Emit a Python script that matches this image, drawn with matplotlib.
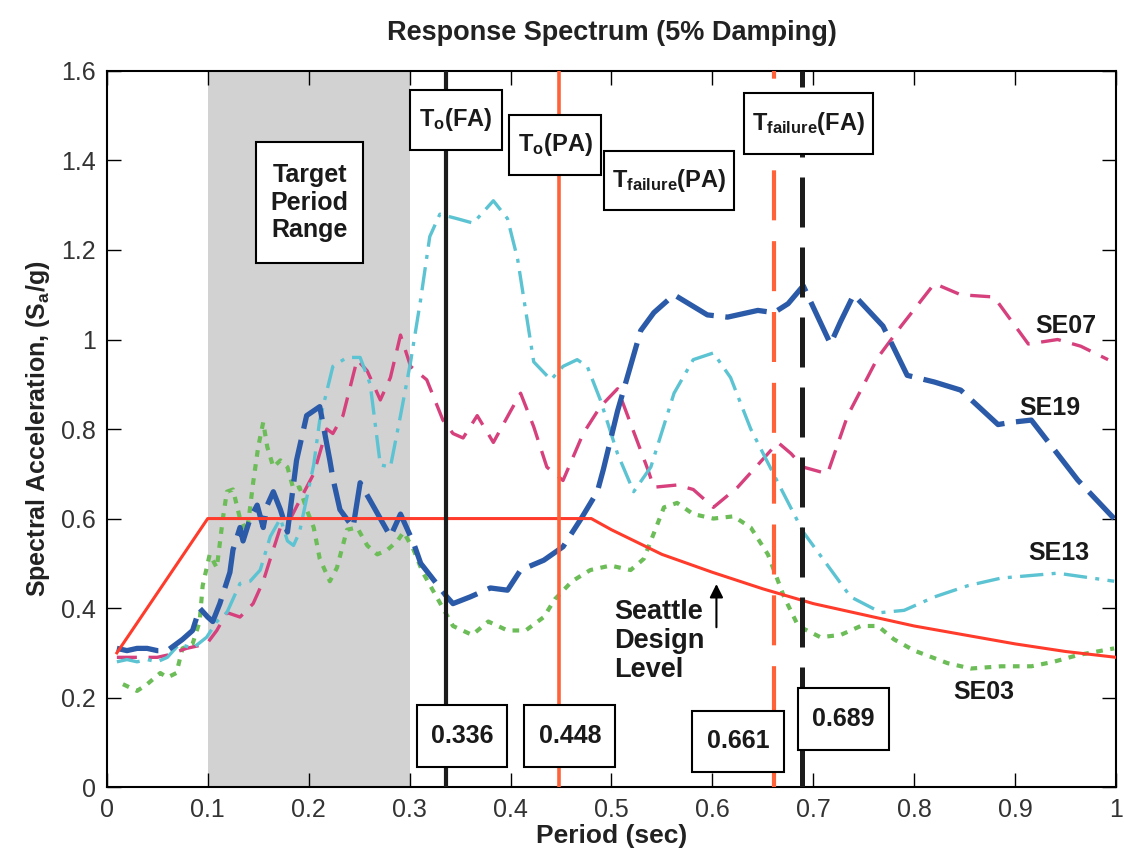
import matplotlib
matplotlib.use('Agg')
import matplotlib.pyplot as plt
from matplotlib.patches import Rectangle

plt.rcParams.update({
    'font.family': ['Liberation Sans', 'DejaVu Sans'],
    'mathtext.fontset': 'custom',
    'mathtext.rm': 'Liberation Sans:bold',
    'mathtext.default': 'rm',
})

NARROW = ['Liberation Sans Narrow', 'Liberation Sans', 'DejaVu Sans']

# ---- data ----
se19_t = [0.01, 0.02, 0.03, 0.04, 0.05, 0.06, 0.075, 0.085, 0.092, 0.1, 0.105, 0.112, 0.122, 0.125,
          0.132, 0.135, 0.142, 0.149, 0.155, 0.159, 0.165, 0.172, 0.179, 0.188, 0.198, 0.211, 0.221,
          0.224, 0.231, 0.244, 0.251, 0.271, 0.281, 0.291, 0.304, 0.311, 0.337, 0.343, 0.36, 0.38,
          0.397, 0.41, 0.433, 0.452, 0.47, 0.486, 0.492, 0.506, 0.529, 0.542, 0.562, 0.595, 0.615,
          0.645, 0.661, 0.675, 0.69, 0.717, 0.727, 0.74, 0.769, 0.78, 0.793, 0.82, 0.846, 0.883,
          0.896, 0.916, 0.962, 0.998]
se19_sa = [0.31, 0.305, 0.31, 0.31, 0.305, 0.305, 0.33, 0.35, 0.40, 0.38, 0.37, 0.41, 0.48, 0.53,
           0.58, 0.55, 0.60, 0.63, 0.58, 0.63, 0.66, 0.62, 0.57, 0.73, 0.83, 0.85, 0.73,
           0.69, 0.62, 0.58, 0.68, 0.60, 0.56, 0.61, 0.545, 0.50, 0.425, 0.41, 0.425, 0.445,
           0.44, 0.485, 0.507, 0.537, 0.60, 0.66, 0.71, 0.84, 1.02, 1.06, 1.10, 1.055, 1.05,
           1.065, 1.06, 1.08, 1.12, 0.99, 1.04, 1.10, 1.03, 0.98, 0.92, 0.905, 0.887, 0.81,
           0.815, 0.82, 0.686, 0.60]

se13_t = [0.01, 0.02, 0.03, 0.04, 0.05, 0.06, 0.072, 0.085, 0.099, 0.109, 0.119, 0.132, 0.142, 0.152,
          0.162, 0.172, 0.179, 0.185, 0.191, 0.205, 0.211, 0.224, 0.238, 0.251, 0.261, 0.271, 0.281,
          0.291, 0.301, 0.311, 0.32, 0.33, 0.347, 0.363, 0.383, 0.397, 0.407, 0.423, 0.44, 0.452,
          0.466, 0.476, 0.489, 0.506, 0.522, 0.539, 0.562, 0.581, 0.601, 0.618, 0.638, 0.665, 0.69,
          0.737, 0.767, 0.79, 0.82, 0.853, 0.886, 0.942, 0.998]
se13_sa = [0.28, 0.285, 0.28, 0.285, 0.28, 0.29, 0.32, 0.31, 0.335, 0.37, 0.39, 0.455, 0.46, 0.485,
           0.56, 0.60, 0.55, 0.54, 0.57, 0.72, 0.82, 0.94, 0.96, 0.96, 0.90, 0.72, 0.715,
           0.83, 0.95, 1.09, 1.23, 1.28, 1.27, 1.26, 1.31, 1.27, 1.18, 0.95, 0.91, 0.94,
           0.955, 0.94, 0.865, 0.745, 0.66, 0.715, 0.88, 0.955, 0.97, 0.915, 0.80, 0.68, 0.57,
           0.425, 0.39, 0.395, 0.425, 0.45, 0.467, 0.478, 0.46]

se07_t = [0.01, 0.03, 0.05, 0.06, 0.079, 0.099, 0.109, 0.119, 0.132, 0.145, 0.155, 0.162, 0.172, 0.182,
          0.191, 0.205, 0.218, 0.224, 0.234, 0.248, 0.258, 0.271, 0.281, 0.291, 0.301, 0.317, 0.333,
          0.343, 0.353, 0.367, 0.383, 0.40, 0.41, 0.423, 0.436, 0.452, 0.472, 0.489, 0.506, 0.536,
          0.542, 0.565, 0.581, 0.601, 0.625, 0.645, 0.665, 0.678, 0.69, 0.714, 0.734, 0.764, 0.787,
          0.82, 0.846, 0.879, 0.913, 0.942, 0.965, 0.992]
se07_sa = [0.29, 0.29, 0.29, 0.295, 0.31, 0.32, 0.35, 0.39, 0.38, 0.41, 0.46, 0.51, 0.58, 0.60,
           0.64, 0.70, 0.80, 0.79, 0.83, 0.955, 0.93, 0.865, 0.915, 1.01, 0.94, 0.91, 0.82,
           0.79, 0.78, 0.83, 0.77, 0.84, 0.88, 0.805, 0.715, 0.685, 0.79, 0.85, 0.89, 0.71,
           0.67, 0.675, 0.665, 0.625, 0.67, 0.72, 0.77, 0.745, 0.715, 0.70, 0.83, 0.96, 1.03,
           1.125, 1.10, 1.095, 0.99, 1.00, 0.985, 0.955]

se03_t = [0.016, 0.03, 0.04, 0.053, 0.06, 0.069, 0.075, 0.085, 0.092, 0.095, 0.099, 0.102, 0.109,
          0.115, 0.119, 0.125, 0.132, 0.139, 0.145, 0.150, 0.155, 0.159, 0.165, 0.172, 0.179, 0.185,
          0.191, 0.198, 0.205, 0.211, 0.221, 0.228, 0.238, 0.248, 0.258, 0.268, 0.278, 0.288, 0.294,
          0.304, 0.313, 0.323, 0.333, 0.343, 0.362, 0.378, 0.397, 0.415, 0.433, 0.444, 0.461, 0.479,
          0.499, 0.519, 0.532, 0.539, 0.552, 0.565, 0.581, 0.601, 0.621, 0.638, 0.655, 0.671, 0.685,
          0.707, 0.727, 0.747, 0.764, 0.78, 0.80, 0.833, 0.856, 0.886, 0.916, 0.938, 0.962, 0.998]
se03_sa = [0.23, 0.215, 0.23, 0.255, 0.245, 0.255, 0.31, 0.32, 0.37, 0.45, 0.49, 0.52, 0.49,
           0.60, 0.66, 0.665, 0.60, 0.57, 0.68, 0.76, 0.815, 0.76, 0.715, 0.73, 0.715, 0.665,
           0.67, 0.62, 0.58, 0.51, 0.46, 0.49, 0.575, 0.58, 0.54, 0.52, 0.53, 0.55, 0.57,
           0.53, 0.48, 0.44, 0.40, 0.36, 0.34, 0.37, 0.35, 0.35, 0.38, 0.42, 0.46, 0.485,
           0.495, 0.485, 0.51, 0.55, 0.625, 0.635, 0.61, 0.60, 0.605, 0.58, 0.52, 0.425, 0.36,
           0.335, 0.34, 0.36, 0.36, 0.33, 0.305, 0.277, 0.265, 0.27, 0.27, 0.28, 0.295, 0.31]

design_t = [0.01, 0.1, 0.48, 0.5, 0.55, 0.6, 0.65, 0.7, 0.75, 0.8, 0.85, 0.9, 0.95, 1.0]
design_sa = [0.30, 0.60, 0.60, 0.575, 0.52, 0.48, 0.443, 0.41, 0.385, 0.36, 0.34, 0.32, 0.303, 0.29]

target_range = (0.1, 0.3)
t_o_fa, t_o_pa, t_fail_pa, t_fail_fa = 0.336, 0.448, 0.661, 0.689

x_ticks = [0, 0.1, 0.2, 0.3, 0.4, 0.5, 0.6, 0.7, 0.8, 0.9, 1]
y_ticks = [0, 0.2, 0.4, 0.6, 0.8, 1, 1.2, 1.4, 1.6]

# ---- figure ----
fig = plt.figure(figsize=(11.24, 8.65), dpi=100)
ax = fig.add_axes([0.095, 0.090, 0.898, 0.828])

ax.axvspan(*target_range, color='#d2d2d2', zorder=0, lw=0)

ax.plot(design_t, design_sa, color='#ff3b2b', lw=2.2, zorder=3)
ax.plot(se03_t, se03_sa, color='#6cbd58', lw=3.0, dashes=(1.6, 1.8), zorder=2)
ax.plot(se07_t, se07_sa, color='#d6407c', lw=2.4, dashes=(6, 3.5), zorder=2)
ax.plot(se13_t, se13_sa, color='#5cc3d2', lw=2.4, dashes=(7, 2.5, 1.2, 2.5), zorder=2)
ax.plot(se19_t, se19_sa, color='#2b5aa8', lw=3.8, dashes=(8, 2.2), zorder=2)

ax.axvline(t_o_fa, color='#1c1c1c', lw=3.0, zorder=4)
ax.axvline(t_o_pa, color='#ff6238', lw=2.6, zorder=4)
ax.axvline(t_fail_pa, color='#ff6238', lw=3.0, dashes=(12, 5), zorder=4)
ax.axvline(t_fail_fa, color='#1c1c1c', lw=3.6, dashes=(10, 4), zorder=4)


def boxed(x0, x1, y0, y1, text, size=18, **kw):
    ax.add_patch(Rectangle((x0, y0), x1 - x0, y1 - y0, fc='white', ec='black', lw=1.5, zorder=5))
    ax.text((x0 + x1) / 2, (y0 + y1) / 2, text, fontsize=size, fontweight='bold', ha='center',
            va='center', color='#1a1a1a', zorder=6, **kw)


boxed(0.148, 0.254, 1.171, 1.441, 'Target\nPeriod\nRange', size=18, linespacing=1.2)
boxed(0.300, 0.392, 1.423, 1.558, r'T$_{\mathrm{o}}$(FA)', size=17)
boxed(0.398, 0.490, 1.368, 1.502, r'T$_{\mathrm{o}}$(PA)', size=17)
boxed(0.493, 0.621, 1.289, 1.421, r'T$_{\mathrm{failure}}$(PA)', size=17)
boxed(0.631, 0.759, 1.415, 1.551, r'T$_{\mathrm{failure}}$(FA)', size=17)

boxed(0.3075, 0.397, 0.045, 0.183, f'{t_o_fa:.3f}')
boxed(0.4137, 0.504, 0.045, 0.183, f'{t_o_pa:.3f}')
boxed(0.580, 0.671, 0.034, 0.170, f'{t_fail_pa:.3f}')
boxed(0.6845, 0.775, 0.083, 0.221, f'{t_fail_fa:.3f}')

curve = dict(fontsize=18, fontweight='bold', ha='center', va='center', color='#1a1a1a', zorder=6)
ax.text(0.950, 1.03, 'SE07', **curve)
ax.text(0.934, 0.847, 'SE19', **curve)
ax.text(0.943, 0.523, 'SE13', **curve)
ax.text(0.869, 0.212, 'SE03', **curve)

ax.text(0.503, 0.327, 'Seattle\nDesign\nLevel', fontsize=19.5, fontweight='bold', ha='left', va='center',
        linespacing=1.15, color='#1a1a1a', zorder=6)
ax.annotate('', xy=(0.604, 0.460), xytext=(0.604, 0.351),
            arrowprops=dict(arrowstyle='-|>', color='black', lw=1.5, mutation_scale=20), zorder=6)

ax.set_xlim(0, 1)
ax.set_ylim(0, 1.6)
ax.set_xticks(x_ticks)
ax.set_xticklabels([f'{v:g}' for v in x_ticks])
ax.set_yticks(y_ticks)
ax.set_yticklabels([f'{v:g}' for v in y_ticks])
ax.tick_params(direction='in', top=True, right=True, length=10, width=1, labelsize=18,
               labelcolor='#333333', pad=8)
for s in ax.spines.values():
    s.set_linewidth(1.5)

ax.set_xlabel('Period (sec)', fontsize=19, fontweight='bold', family=NARROW, labelpad=1, color='#222222')
ax.set_ylabel(r'Spectral Acceleration, (S$_{\mathrm{a}}$/g)', fontsize=18, fontweight='bold', family=NARROW,
              labelpad=6, color='#222222')
ax.set_title('Response Spectrum (5% Damping)', fontsize=19.5, fontweight='bold', family=NARROW, pad=22,
             color='#222222')

fig.savefig('out.png', dpi=100)
